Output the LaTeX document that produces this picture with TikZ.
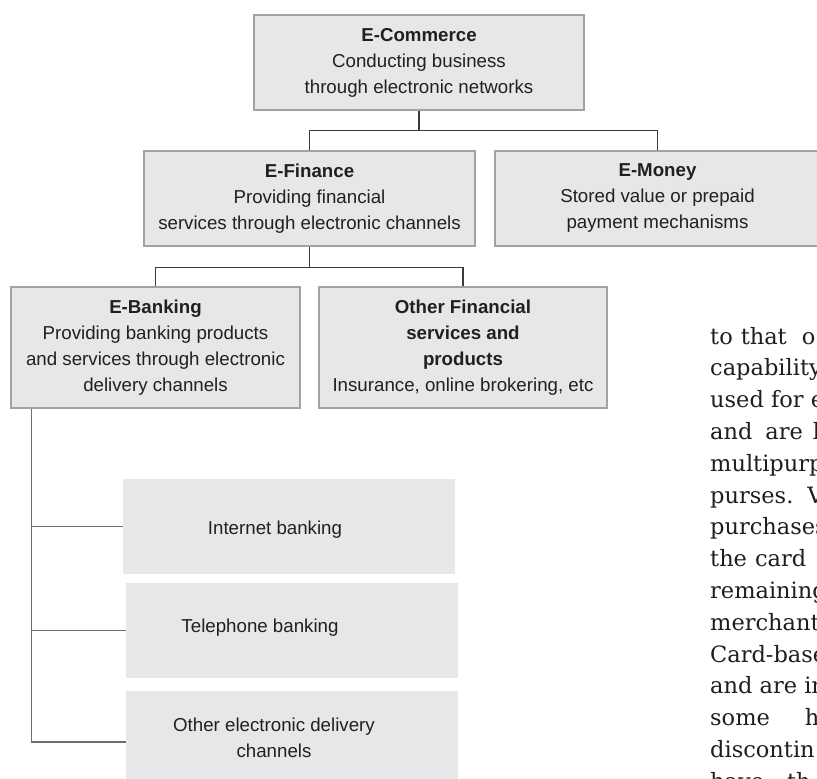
\documentclass[tikz,border=0pt]{standalone}
\usepackage{fontspec}
\setmainfont{Liberation Sans}
\newfontfamily\bodyserif{DejaVu Serif}

\definecolor{boxfill}{HTML}{E6E7E8}
\definecolor{boxline}{HTML}{A2A2A2}
\definecolor{ink}{HTML}{231F20}
\definecolor{wire}{HTML}{3A3A3A}
\definecolor{wirelight}{HTML}{6E6E6E}
\definecolor{bodyink}{HTML}{1E1E1E}

\tikzset{
  boxtext/.style={font=\fontsize{18.7}{26}\selectfont, text=ink},
  card/.style={boxtext, fill=boxfill, draw=boxline, line width=1.1pt,
    align=center, inner sep=0pt},
  pane/.style={fill=boxfill, inner sep=0pt},
  wiredark/.style={draw=wire, line width=1.1pt},
  wirepale/.style={draw=wirelight, line width=1.1pt},
  bodyline/.style={font=\bodyserif\fontsize{22.5}{22.5}\selectfont, text=bodyink,
    anchor=base west, inner sep=0pt}
}

\begin{document}
\begin{tikzpicture}[x=1pt, y=-1pt]
\useasboundingbox (0,0) rectangle (817,779);

% --- hierarchy boxes ---
\node[card, minimum width=330pt, minimum height=95pt] (ecom) at (419,62.5)
  {{\bfseries E-Commerce}\\Conducting business\\through electronic networks};
\node[card, minimum width=331pt, minimum height=95pt] (efin) at (309.5,198.5)
  {{\bfseries E-Finance}\\Providing financial\\services through electronic channels};
\node[card, minimum width=325pt, minimum height=95pt] (emoney) at (657.5,198.5)
  {{\bfseries E-Money}\\Stored value or prepaid\\payment mechanisms};
\node[card, minimum width=289pt, minimum height=121pt] (ebank) at (155.5,347.5)
  {{\bfseries E-Banking}\\Providing banking products\\and services through electronic\\delivery channels};
\node[card, minimum width=288pt, minimum height=121pt] (eother) at (463,347.5)
  {{\bfseries Other Financial}\\{\bfseries services and}\\{\bfseries products}\\Insurance, online brokering, etc};

% --- delivery channel panes ---
\node[pane, minimum width=332pt, minimum height=95pt,
  label={[boxtext, xshift=-14pt, yshift=-3.5pt]center:Internet banking}]
  (inet) at (289,526.5) {};
\node[pane, minimum width=332pt, minimum height=95pt,
  label={[boxtext, xshift=-32pt, yshift=2.5pt]center:Telephone banking}]
  (tel) at (292,630.5) {};
\node[pane, minimum width=332pt, minimum height=102pt,
  label={[boxtext, align=center, xshift=-18pt, yshift=4.5pt]center:Other electronic delivery\\channels}]
  (oedc) at (292,742) {};

% --- connectors ---
\draw[wiredark] (ecom.south) -- ++(0,20) -| (efin.north);
\draw[wiredark] (ecom.south) ++(0,20) -| (emoney.north);
\draw[wiredark] (efin.south) -- ++(0,21) -| (ebank.north);
\draw[wiredark] (efin.south) ++(0,21) -| (eother.north);

\coordinate (trunk) at ([xshift=21pt]ebank.south west);
\draw[wirepale] (trunk) |- (inet.west);
\draw[wirepale] (trunk) |- (tel.west);
\draw[wirepale] (trunk) |- (oedc.west);

% --- neighbouring column of running text ---
\begin{scope}
\clip (0,0) rectangle (817,779);
\foreach \txt [count=\i from 0] in {
  {to\hspace{8pt}that\hspace{15pt}o},
  {capability},
  {used for e},
  {and\hspace{13pt}are\hspace{10pt}l},
  {multipurp},
  {purses.\hspace{14pt}V},
  {purchases},
  {the\hspace{8pt}card},
  {remaining},
  {merchant},
  {Card-base},
  {and are in},
  {some\hspace{35pt}h},
  {discontin},
  {have\hspace{23pt}th}}
  \node[bodyline] (body\i) at (710, 344+31.8*\i) {\txt};
\end{scope}
\end{tikzpicture}
\end{document}
